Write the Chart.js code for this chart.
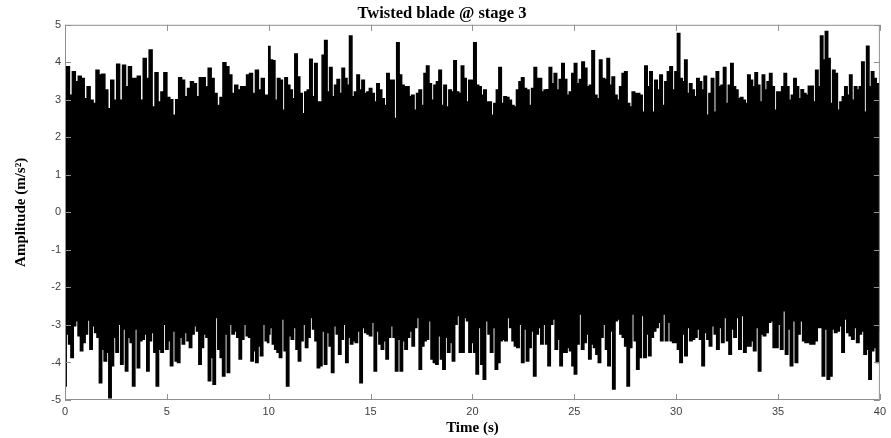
<!DOCTYPE html>
<html lang="en">
<head>
  <meta charset="UTF-8" />
  <title>Twisted blade @ stage 3</title>
  <script src="https://cdn.jsdelivr.net/npm/chart.js"></script>
  <style>
    body { margin: 0; background: #fff; }
    #wrap { width: 891px; height: 438px; }
  </style>
</head>
<body>
  <div id="wrap"><canvas id="chart" width="891" height="438"></canvas></div>
  <script>
    // upper envelope of the signal (m/s^2), one array per 10 s
    const top0to10 = [3.66, 3.88, 3.12, 3.75, 3.48, 3.63, 3.57, 3.03, 3.35, 2.99, 2.90, 3.79, 3.66, 3.68, 3.26, 2.76,
      3.52, 2.99, 3.95, 2.99, 3.92, 3.35, 3.88, 3.57, 3.57, 3.63, 2.99, 4.10, 3.57, 4.33, 2.81, 3.72, 2.94, 3.21,
      3.72, 3.06, 3.00, 2.59, 3.00, 3.59, 3.52, 3.08, 3.30, 3.48, 3.43, 3.08, 3.59, 3.59, 3.35, 3.84, 3.57, 3.17,
      2.85, 3.06, 3.99, 3.88, 3.66, 3.17, 3.39, 3.26, 3.35, 3.35, 3.66, 3.70, 3.17, 3.79, 3.26, 3.57, 3.12, 3.03];
    const top10to20 = [4.42, 4.06, 4.04, 2.99, 3.57, 3.52, 2.72, 3.59, 3.39, 3.26, 3.03, 4.22, 3.61, 3.17, 2.63, 3.21,
      3.26, 4.08, 3.08, 3.97, 2.94, 2.94, 4.19, 4.58, 3.21, 3.86, 3.08, 3.39, 3.54, 3.17, 3.84, 3.57, 3.39, 4.70,
      3.08, 3.21, 3.66, 3.26, 3.52, 3.17, 3.21, 3.30, 3.17, 2.94, 3.43, 3.26, 3.03, 2.85, 3.70, 3.52, 3.52, 2.50,
      4.52, 3.66, 3.39, 3.35, 3.35, 3.08, 3.12, 2.72, 3.17, 3.26, 2.85, 3.70, 3.90, 3.43, 2.99, 3.39, 3.48, 3.79,
      2.85, 3.39, 2.81, 3.26, 3.21, 4.04, 3.21, 3.17, 3.90, 3.57, 2.94, 3.52, 3.26];
    const top20to30 = [3.52, 4.52, 3.39, 3.35, 3.12, 3.26, 2.94, 2.94, 2.59, 2.90, 3.26, 3.86, 2.90, 3.08, 3.06, 2.99,
      2.85, 2.81, 3.26, 3.48, 3.59, 3.30, 3.26, 2.85, 3.30, 3.86, 3.57, 3.57, 3.21, 3.26, 3.27, 3.86, 3.43, 3.70,
      3.26, 3.54, 3.97, 3.54, 3.12, 3.21, 3.70, 3.97, 3.43, 3.54, 4.01, 3.84, 3.35, 3.39, 4.31, 3.12, 3.03, 4.06,
      3.57, 3.54, 4.10, 3.39, 3.61, 3.12, 2.99, 3.35, 3.70, 3.75, 2.90, 2.81, 3.21, 3.17, 3.17, 3.12, 2.67, 3.90,
      3.35, 3.75, 2.67, 3.52, 3.26, 3.66, 2.85, 3.48, 3.75, 3.88, 3.26, 3.75];
    const top30to40 = [3.70, 4.77, 3.57, 3.48, 4.06, 3.17, 3.43, 3.26, 3.08, 3.57, 3.48, 3.26, 3.63, 2.59, 3.17, 3.57,
      2.67, 3.75, 3.35, 3.39, 3.86, 2.90, 3.39, 3.97, 3.35, 3.26, 3.03, 3.06, 2.99, 2.90, 3.66, 3.52, 3.35, 3.72,
      3.39, 2.94, 3.66, 3.26, 3.48, 3.70, 3.35, 2.72, 3.21, 3.21, 3.35, 3.70, 3.35, 2.99, 3.12, 3.57, 3.35, 3.03,
      3.27, 3.17, 3.12, 3.36, 3.36, 2.94, 3.79, 3.35, 4.70, 4.06, 4.82, 4.10, 2.90, 3.79, 3.70, 2.72, 2.94, 3.08,
      3.35, 3.12, 3.66, 2.99, 3.35, 3.26, 3.35, 4.01, 2.67, 4.43, 3.35, 3.75, 3.57, 3.43, 2.99];

    // lower envelope of the signal (m/s^2)
    const low0to10 = [-4.63, -3.24, -3.51, -3.87, -3.02, -2.89, -3.29, -3.69, -3.47, -3.24, -2.87, -3.65, -3.02, -3.20,
      -3.33, -4.54, -3.65, -3.96, -3.73, -4.94, -4.09, -3.33, -3.73, -2.98, -4.05, -3.11, -4.23, -3.33, -3.47, -4.63,
      -3.11, -4.14, -3.42, -3.38, -3.24, -4.23, -3.42, -3.20, -3.73, -4.63, -3.65, -3.73, -2.98, -3.65, -3.42, -4.09,
      -3.16, -3.96, -4.00, -3.33, -3.51, -3.20, -3.42, -3.60, -3.24, -3.02, -3.16, -4.05, -3.60, -3.24, -3.33, -4.49,
      -3.87, -4.58, -2.80, -3.65, -3.87, -4.36, -3.24, -4.27, -2.98, -3.24, -3.16, -3.33, -3.91, -3.38, -2.98, -3.29,
      -3.33, -3.96, -3.69, -4.00, -3.56, -3.82, -2.98, -3.42, -3.47];
    const low10to20 = [-3.24, -3.07, -3.51, -3.65, -3.73, -3.87, -2.84, -3.69, -4.63, -3.29, -3.38, -3.07, -3.65, -3.96,
      -3.42, -2.98, -3.60, -3.33, -2.80, -3.11, -3.42, -4.14, -4.09, -3.16, -4.05, -3.20, -3.56, -4.27, -3.02, -3.24,
      -3.78, -3.38, -2.98, -4.00, -3.33, -3.51, -3.42, -3.47, -3.16, -4.54, -3.07, -3.20, -3.24, -3.29, -2.93, -4.23,
      -3.16, -3.51, -3.65, -3.42, -3.91, -3.33, -3.02, -3.33, -4.23, -3.38, -4.23, -3.42, -3.65, -3.33, -3.16, -3.56,
      -3.07, -2.80, -4.18, -3.56, -3.42, -3.38, -2.89, -3.91, -4.00, -4.05, -3.29, -3.91, -4.18, -3.33, -3.73, -3.47,
      -3.96, -2.98, -2.75, -3.73, -3.73, -2.80, -2.89, -3.73, -3.42];
    const low20to30 = [-3.47, -3.73, -4.31, -3.07, -4.05, -4.45, -2.89, -3.24, -3.73, -3.07, -4.18, -4.00, -3.42, -3.38,
      -3.42, -2.80, -3.07, -3.42, -3.56, -3.60, -2.98, -4.00, -3.11, -3.96, -3.60, -3.16, -4.36, -3.24, -3.07, -3.51,
      -2.98, -3.51, -4.09, -2.98, -2.84, -3.65, -3.38, -4.09, -3.73, -3.73, -3.60, -3.69, -4.09, -4.31, -3.51, -2.71,
      -3.65, -3.47, -3.24, -3.91, -3.51, -3.60, -3.78, -4.00, -3.33, -2.98, -3.65, -4.09, -3.16, -4.71, -2.89, -2.84,
      -3.24, -3.33, -3.56, -4.63, -3.60, -2.71, -3.42, -4.18, -3.87, -2.75, -3.87, -3.24, -3.82, -3.33, -3.16, -3.07,
      -2.93, -3.42, -2.71, -3.42, -2.93, -3.42, -3.47, -3.42];
    const low30to40 = [-3.47, -3.65, -4.00, -3.24, -3.82, -3.07, -3.42, -3.38, -3.33, -3.11, -3.38, -4.09, -3.20, -3.38,
      -3.56, -3.02, -3.24, -3.65, -3.07, -3.47, -2.80, -3.42, -3.78, -3.11, -3.33, -2.80, -3.65, -2.75, -3.73, -3.56,
      -3.56, -3.42, -3.69, -3.07, -4.23, -3.24, -3.29, -3.20, -2.93, -2.89, -3.60, -3.60, -2.98, -3.65, -2.62, -3.78,
      -3.11, -4.09, -2.89, -4.00, -3.24, -2.89, -3.42, -3.47, -3.47, -3.51, -3.51, -3.42, -3.07, -3.07, -4.36, -3.11,
      -4.45, -4.36, -3.11, -3.20, -3.16, -3.02, -3.73, -2.84, -3.20, -3.29, -3.38, -3.07, -3.47, -3.24, -3.16, -3.78,
      -3.65, -4.45, -3.69, -3.60, -4.00, -3.16];

    const segStart = [0, 10, 20, 30];
    const segLength = 10;
    const xTicks = [0, 5, 10, 15, 20, 25, 30, 35, 40];
    const yTicks = [-5, -4, -3, -2, -1, 0, 1, 2, 3, 4, 5];

    // lay each 10 s piece evenly over its own window
    function toPoints(segments) {
      const pts = [];
      segments.forEach((vals, k) => {
        vals.forEach((v, i) => {
          pts.push({ x: segStart[k] + segLength * i / (vals.length - 1), y: v });
        });
      });
      return pts;
    }

    const upper = toPoints([top0to10, top10to20, top20to30, top30to40]);
    const lower = toPoints([low0to10, low10to20, low20to30, low30to40]);

    // MATLAB-style box with inward ticks
    const frame = {
      id: 'frame',
      afterDatasetsDraw(chart) {
        const { ctx, chartArea: a, scales: { x, y } } = chart;
        ctx.save();
        ctx.strokeStyle = '#8f8f8f';
        ctx.lineWidth = 1;
        ctx.strokeRect(a.left + 0.5, a.top + 0.5, a.right - a.left - 1, a.bottom - a.top - 1);
        ctx.beginPath();
        xTicks.forEach(v => {
          const px = Math.round(x.getPixelForValue(v)) + 0.5;
          ctx.moveTo(px, a.bottom); ctx.lineTo(px, a.bottom - 6);
          ctx.moveTo(px, a.top); ctx.lineTo(px, a.top + 6);
        });
        yTicks.forEach(v => {
          const py = Math.round(y.getPixelForValue(v)) + 0.5;
          ctx.moveTo(a.left, py); ctx.lineTo(a.left + 6, py);
          ctx.moveTo(a.right, py); ctx.lineTo(a.right - 6, py);
        });
        ctx.stroke();
        ctx.restore();
      }
    };

    const tickFont = { family: "'Liberation Sans', Arial, sans-serif", size: 11 };
    const titleFont = { family: "'Liberation Serif', 'Times New Roman', serif", size: 15, weight: 'bold' };

    new Chart(document.getElementById('chart'), {
      type: 'line',
      data: {
        datasets: [
          {
            label: 'upper',
            data: upper,
            borderColor: '#000',
            backgroundColor: '#000',
            borderWidth: 1.5,
            pointRadius: 0,
            stepped: 'middle',
            fill: { value: -1 }
          },
          {
            label: 'lower',
            data: lower,
            borderColor: '#000',
            backgroundColor: '#000',
            borderWidth: 1.5,
            pointRadius: 0,
            stepped: 'middle',
            fill: { value: 1 }
          }
        ]
      },
      options: {
        responsive: false,
        animation: false,
        layout: { padding: { left: 0, right: 7, top: 0, bottom: 0 } },
        plugins: {
          legend: { display: false },
          tooltip: { enabled: false },
          title: {
            display: true,
            text: 'Twisted blade @ stage 3',
            color: '#000',
            font: { family: titleFont.family, size: 16.5, weight: 'bold' },
            padding: { top: 4, bottom: 1 }
          }
        },
        scales: {
          x: {
            type: 'linear',
            min: 0,
            max: 40,
            afterFit: s => { s.height = 38; },
            afterBuildTicks: s => { s.ticks = xTicks.map(v => ({ value: v })); },
            grid: { display: false, drawTicks: false },
            border: { display: false },
            ticks: { font: tickFont, color: '#404040', padding: 5, maxRotation: 0 },
            title: { display: true, text: 'Time (s)', color: '#000', font: titleFont, padding: { top: 0, bottom: 1 } }
          },
          y: {
            min: -5,
            max: 5,
            afterFit: s => { s.width = 65; },
            afterBuildTicks: s => { s.ticks = yTicks.map(v => ({ value: v })); },
            grid: { display: false, drawTicks: false },
            border: { display: false },
            ticks: { font: tickFont, color: '#404040', padding: 4 },
            title: { display: true, text: 'Amplitude (m/s²)', color: '#000', font: titleFont, padding: { top: 12, bottom: 0 } }
          }
        }
      },
      plugins: [frame]
    });
  </script>
</body>
</html>
